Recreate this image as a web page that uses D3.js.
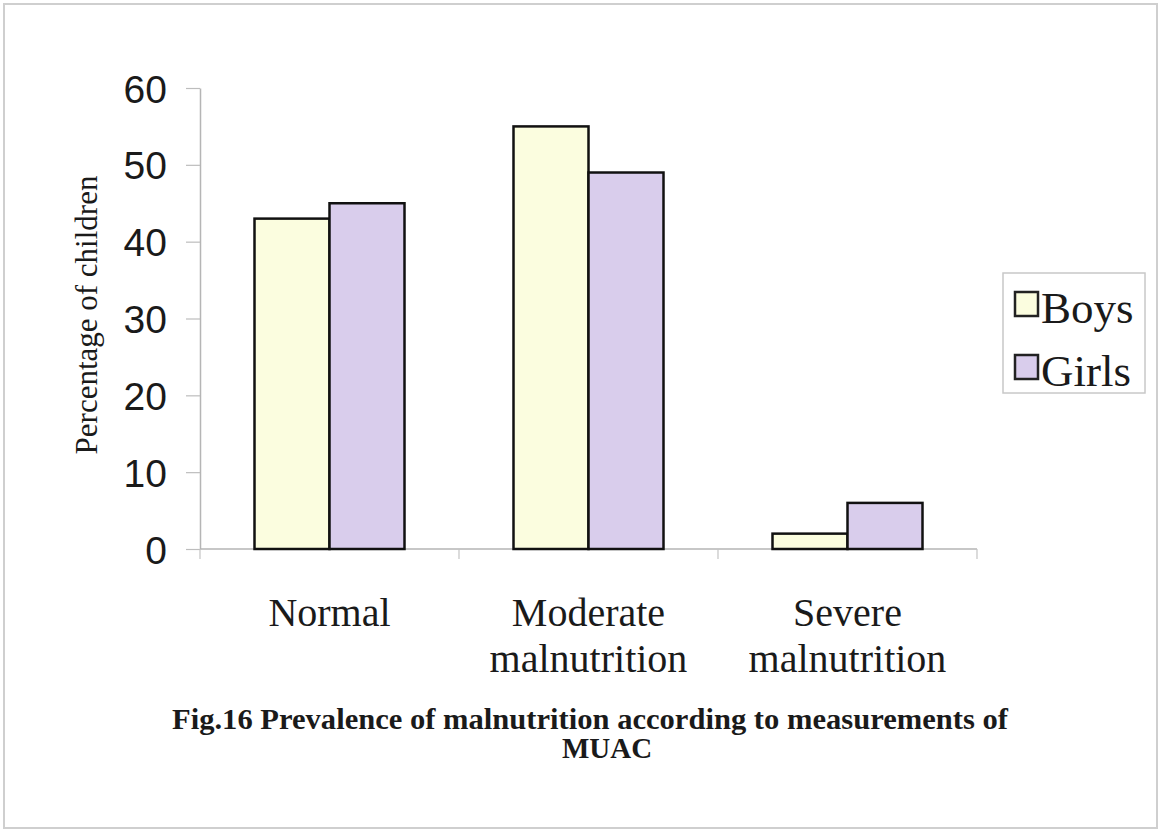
<!DOCTYPE html>
<html>
<head>
<meta charset="utf-8">
<script src="https://cdn.jsdelivr.net/npm/d3@7"></script>
<style>
  html, body { margin: 0; padding: 0; background: #fff; }
  svg { display: block; }
</style>
</head>
<body>
<svg id="chart" width="1162" height="832"></svg>
<script>
// Prevalence of malnutrition (MUAC), % of children by sex
const categories = [["Normal"], ["Moderate", "malnutrition"], ["Severe", "malnutrition"]];
const seriesNames = ["Boys", "Girls"];
const boys = [43, 55, 2];
const girls = [45, 49, 6];
const yTicks = [0, 10, 20, 30, 40, 50, 60];
const yTitle = "Percentage of children";
const captionLines = ["Fig.16 Prevalence of malnutrition according to measurements of", "MUAC"];

const colors = { Boys: "#fbfddf", Girls: "#d9cdec" };
const serif = "'Liberation Serif', 'Times New Roman', serif";
const sans = "'Liberation Sans', Arial, sans-serif";

const svg = d3.select("#chart");

// outer frame
svg.append("rect")
  .attr("x", 4).attr("y", 4).attr("width", 1153).attr("height", 824)
  .attr("fill", "#fff").attr("stroke", "#cfcfcf").attr("stroke-width", 2);

const plot = { left: 200, right: 977, top: 88, bottom: 549 };

const keys = categories.map(c => c.join(" "));
const x = d3.scaleBand().domain(keys).range([plot.left, plot.right]).paddingInner(0).paddingOuter(0);
const groupWidth = 150;
const xs = d3.scaleBand().domain(seriesNames).range([0, groupWidth]).padding(0);
const y = d3.scaleLinear().domain([0, 60]).range([plot.bottom, plot.top]);

// y axis
const yAxis = d3.axisLeft(y).tickValues(yTicks).tickSize(14).tickPadding(19).tickSizeOuter(0);
const gy = svg.append("g").attr("transform", `translate(${plot.left},0)`).call(yAxis);
gy.select(".domain").attr("stroke", "#b5b5b5").attr("stroke-width", 1.5);
gy.selectAll(".tick line").attr("stroke", "#bdbdbd").attr("stroke-width", 1.2);
gy.selectAll(".tick text")
  .attr("font-family", sans).attr("font-size", 39).attr("fill", "#1a1a1a")
  .attr("dy", "0.36em");

// x axis baseline with boundary ticks
const gx = svg.append("g").attr("transform", `translate(0,${plot.bottom})`);
gx.append("line").attr("x1", plot.left).attr("x2", plot.right)
  .attr("stroke", "#b5b5b5").attr("stroke-width", 1.5);
const bounds = keys.map(k => x(k)).concat([plot.right]);
gx.selectAll("line.bt").data(bounds).join("line").attr("class", "bt")
  .attr("x1", d => d).attr("x2", d => d).attr("y1", 0).attr("y2", 10)
  .attr("stroke", "#c4c4c4").attr("stroke-width", 1.2);

// category labels
categories.forEach((lines, i) => {
  const cx = x(keys[i]) + x.bandwidth() / 2;
  lines.forEach((t, j) => {
    svg.append("text")
      .attr("x", cx).attr("y", 626 + j * 46)
      .attr("text-anchor", "middle")
      .attr("font-family", serif).attr("font-size", 40).attr("fill", "#1a1a1a")
      .text(t);
  });
});

// bars
const rows = keys.map((k, i) => ({ key: k, Boys: boys[i], Girls: girls[i] }));
const groups = svg.append("g").selectAll("g").data(rows).join("g")
  .attr("transform", d => `translate(${x(d.key) + (x.bandwidth() - groupWidth) / 2},0)`);
groups.selectAll("rect")
  .data(d => seriesNames.map(s => ({ s, v: d[s] })))
  .join("rect")
  .attr("x", d => xs(d.s))
  .attr("y", d => y(d.v))
  .attr("width", xs.bandwidth())
  .attr("height", d => y(0) - y(d.v))
  .attr("fill", d => colors[d.s])
  .attr("stroke", "#111").attr("stroke-width", 2.5);

// y title
svg.append("text")
  .attr("transform", "translate(97,315) rotate(-90)")
  .attr("text-anchor", "middle")
  .attr("font-family", serif).attr("font-size", 31).attr("fill", "#1a1a1a")
  .text(yTitle);

// legend
const lg = svg.append("g");
lg.append("rect").attr("x", 1003).attr("y", 273).attr("width", 142).attr("height", 120)
  .attr("fill", "#fff").attr("stroke", "#c8c8c8").attr("stroke-width", 1.5);
seriesNames.forEach((s, i) => {
  const yy = 292 + i * 63;
  lg.append("rect").attr("x", 1015).attr("y", yy).attr("width", 23).attr("height", 24)
    .attr("fill", colors[s]).attr("stroke", "#222").attr("stroke-width", 2.5);
  lg.append("text").attr("x", 1041).attr("y", yy + 31)
    .attr("font-family", serif).attr("font-size", 45).attr("fill", "#1a1a1a")
    .text(s);
});

// caption
const capX = [590, 607];
captionLines.forEach((t, i) => {
  const tx = svg.append("text")
    .attr("x", capX[i]).attr("y", 729 + i * 29)
    .attr("text-anchor", "middle")
    .attr("font-family", serif).attr("font-weight", "bold").attr("font-size", 29)
    .attr("fill", "#1a1a1a")
    .text(t);
  if (i === 0) tx.attr("textLength", 836).attr("lengthAdjust", "spacingAndGlyphs");
});
</script>
</body>
</html>
